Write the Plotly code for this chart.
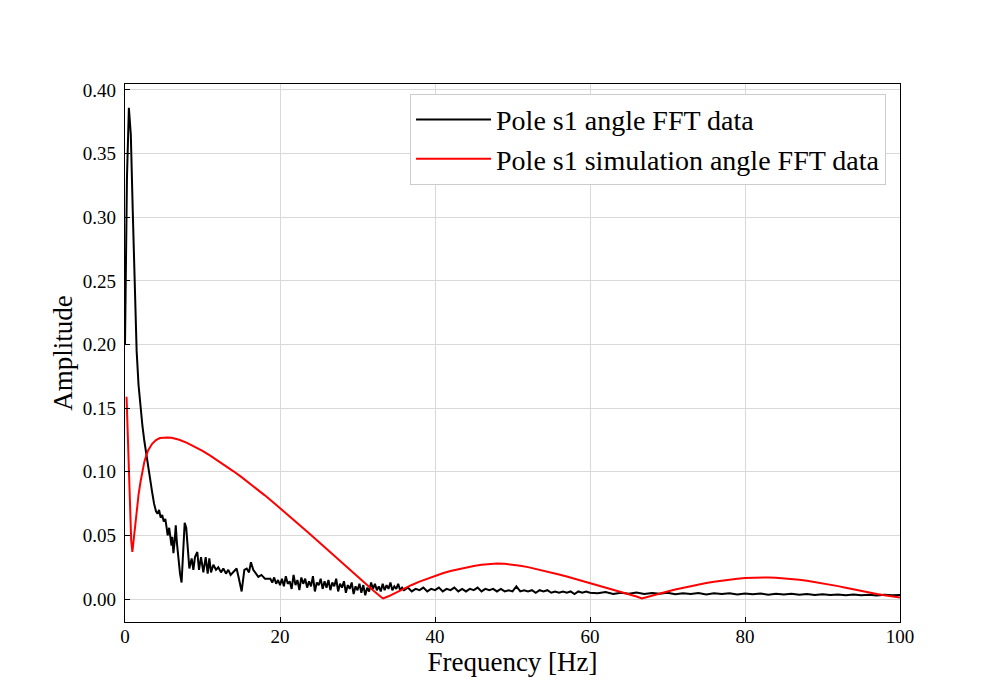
import plotly.graph_objects as go

# measured FFT of pole s1 angle (black)
freq_meas = [
    0.0, 0.25, 0.5, 0.75, 1.0, 1.25, 1.5, 1.75, 2.0, 2.25, 2.5, 2.75, 3.0, 3.25, 3.5, 3.75,
    4.0, 4.2, 4.4, 4.6, 4.8, 5.0, 5.2, 5.4, 5.5, 5.7, 5.9, 6.0, 6.1, 6.25, 6.4, 6.55, 6.7,
    6.9, 7.1, 7.3, 7.5, 7.7, 7.9, 8.1, 8.3,
    8.6, 8.82, 9.03, 9.33, 9.55, 9.81, 10.11, 10.41, 10.67, 10.88, 11.1, 11.4, 11.74, 12.04,
    12.39, 12.69, 13.03, 13.33, 13.63, 13.98, 14.4, 14.7, 15.05, 15.4, 15.7, 16.0, 16.25,
    16.55, 16.9, 17.2, 17.6, 18.06, 18.5,
    18.75, 19.0, 19.25, 19.5, 19.75, 20.0, 20.25, 20.5, 20.75, 21.0, 21.25, 21.5, 21.75,
    22.0, 22.25, 22.5, 22.75, 23.0, 23.25, 23.5, 23.75, 24.0, 24.25, 24.5, 24.75, 25.0,
    25.25, 25.5, 25.75, 26.0, 26.25, 26.5, 26.75, 27.0, 27.25, 27.5, 27.75, 28.0, 28.25,
    28.5, 28.75, 29.0, 29.25, 29.5, 29.75, 30.0, 30.25, 30.5, 30.75, 31.0, 31.25, 31.5,
    31.75, 32.0, 32.25, 32.5, 32.75, 33.0, 33.25, 33.5, 33.75, 34.0, 34.25, 34.5, 34.75,
    35.0, 35.25, 35.5, 35.75, 36.0, 36.5, 37.0, 37.5, 38.0, 38.5, 39.0, 39.5, 40.0,
    40.5, 41.0, 41.5, 42.0, 42.5, 43.0, 43.5, 44.0, 44.5, 45.0, 45.5, 46.0, 46.5, 47.0,
    47.5, 48.0, 48.5, 49.0, 49.5, 50.0, 50.5, 51.0, 51.5, 52.0, 52.5, 53.0, 53.5, 54.0,
    54.5, 55.0, 55.5, 56.0, 56.5, 57.0, 57.5, 58.0, 58.5, 59.0, 59.5, 60.0,
    61, 62, 63, 64, 65, 66, 67, 68, 69, 70, 71, 72, 73, 74, 75, 76, 77, 78, 79, 80,
    81, 82, 83, 84, 85, 86, 87, 88, 89, 90, 91, 92, 93, 94, 95, 96, 97, 98, 99, 100,
]
amp_meas = [
    0.200, 0.330, 0.386, 0.365, 0.305, 0.245, 0.195, 0.168, 0.150, 0.136, 0.124, 0.113,
    0.104, 0.094, 0.084, 0.075,
    0.069, 0.067, 0.070, 0.064, 0.066, 0.061, 0.063, 0.055, 0.050, 0.056, 0.046, 0.042,
    0.049, 0.036, 0.045, 0.058, 0.044, 0.030, 0.020, 0.013, 0.040, 0.060, 0.056, 0.038,
    0.024,
    0.032, 0.023, 0.033, 0.037, 0.023, 0.033, 0.021, 0.033, 0.020, 0.032, 0.021, 0.027,
    0.023, 0.025, 0.021, 0.024, 0.020, 0.023, 0.019, 0.021, 0.024, 0.016, 0.006, 0.023,
    0.024, 0.021, 0.029, 0.023, 0.020, 0.0175, 0.019, 0.016, 0.016,
    0.016, 0.013, 0.017, 0.012, 0.015, 0.011, 0.016, 0.010, 0.018, 0.012, 0.014, 0.008,
    0.019, 0.011, 0.015, 0.007, 0.017, 0.012, 0.016, 0.009, 0.014, 0.010, 0.018, 0.006,
    0.013, 0.011, 0.016, 0.008, 0.014, 0.009, 0.015, 0.007, 0.013, 0.010, 0.016, 0.006,
    0.012, 0.009, 0.014, 0.005, 0.011, 0.008, 0.013, 0.004, 0.010, 0.007, 0.012, 0.005,
    0.011, 0.003, 0.009, 0.006, 0.013, 0.008, 0.012, 0.007, 0.010, 0.006, 0.012, 0.007,
    0.011, 0.008, 0.013, 0.007, 0.010, 0.008, 0.012, 0.007, 0.009, 0.007, 0.009, 0.006,
    0.008, 0.007, 0.009, 0.006, 0.008, 0.007,
    0.009, 0.006, 0.008, 0.007, 0.009, 0.006, 0.008, 0.006, 0.008, 0.007, 0.009, 0.006,
    0.008, 0.007, 0.008, 0.006, 0.008, 0.006, 0.007, 0.006, 0.010, 0.006, 0.007, 0.006,
    0.007, 0.005, 0.007, 0.006, 0.007, 0.005, 0.006, 0.005, 0.006, 0.005, 0.006, 0.004,
    0.006, 0.005, 0.006, 0.005,
    0.0045, 0.0055, 0.004, 0.005, 0.0042, 0.0052, 0.004, 0.0048, 0.0042, 0.005, 0.0038,
    0.0046, 0.004, 0.0048, 0.0037, 0.0045, 0.004, 0.0046, 0.0036, 0.0044, 0.0038, 0.0043,
    0.0035, 0.0042, 0.0036, 0.0041, 0.0034, 0.004, 0.0033, 0.0038, 0.0032, 0.0037,
    0.0031, 0.0036, 0.003, 0.0035, 0.0029, 0.0034, 0.003, 0.0032,
]

# simulated FFT (red)
freq_sim = [
    0.2, 0.35, 0.5, 0.65, 0.8, 0.95, 1.1, 1.3, 1.5, 1.75, 2.0, 2.25, 2.5, 2.75, 3.0, 3.5,
    4.0, 4.5, 5.0, 5.5, 6, 7, 8, 9, 10, 11, 12, 13, 14, 15, 16, 17, 18, 19, 20, 21, 22,
    23, 24, 25, 26, 27, 28, 29, 30, 31, 32, 33, 33.3, 34, 35, 36, 37, 38, 39, 40, 41, 42,
    43, 44, 45, 46, 47, 48, 49, 50, 51, 52, 53, 54, 55, 56, 57, 58, 59, 60, 61, 62, 63,
    64, 65, 66, 66.7, 67.5, 68, 69, 70, 71, 72, 73, 74, 75, 76, 77, 78, 79, 80, 81, 82,
    83, 84, 85, 86, 87, 88, 89, 90, 91, 92, 93, 94, 95, 96, 97, 98, 99, 100,
]
amp_sim = [
    0.159, 0.130, 0.100, 0.070, 0.046, 0.037, 0.045, 0.060, 0.071, 0.082, 0.092, 0.101,
    0.108, 0.113, 0.117, 0.122, 0.125, 0.1265, 0.127, 0.127, 0.1267, 0.1252, 0.1228,
    0.1198, 0.1164, 0.1127, 0.1088, 0.1047, 0.1004, 0.0960, 0.0914, 0.0866, 0.0817,
    0.0767, 0.0716, 0.0664, 0.0611, 0.0557, 0.0503, 0.0448, 0.0393, 0.0338, 0.0283,
    0.0228, 0.0174, 0.0121, 0.0069, 0.0019, 0.0005,
    0.0022, 0.0053, 0.0083, 0.0111, 0.0137, 0.0161, 0.0183, 0.0203, 0.0221, 0.0236,
    0.0249, 0.0260, 0.0269, 0.0276, 0.0279, 0.0277, 0.0271, 0.0262, 0.0251, 0.0238,
    0.0224, 0.0209, 0.0193, 0.0177, 0.0160, 0.0143, 0.0126, 0.0109, 0.0092, 0.0074,
    0.0056, 0.0038, 0.0020, 0.0005,
    0.0017, 0.0025, 0.0043, 0.0060, 0.0076, 0.0090, 0.0104, 0.0116, 0.0127, 0.0137,
    0.0146, 0.0154, 0.0160, 0.0165, 0.0168, 0.0170, 0.0170, 0.0168, 0.0164, 0.0159,
    0.0152, 0.0144, 0.0135, 0.0125, 0.0114, 0.0102, 0.0089, 0.0076, 0.0063, 0.0051,
    0.0040, 0.0030, 0.0021, 0.0013,
]

y_ticks = [0.0, 0.05, 0.10, 0.15, 0.20, 0.25, 0.30, 0.35, 0.40]
x_ticks = [0, 20, 40, 60, 80, 100]

serif = "Liberation Serif, Times New Roman, serif"

fig = go.Figure()
fig.add_trace(go.Scatter(x=freq_meas, y=amp_meas, mode="lines",
                         line=dict(color="black", width=2),
                         name="Pole s1 angle FFT data"))
fig.add_trace(go.Scatter(x=freq_sim, y=amp_sim, mode="lines",
                         line=dict(color="red", width=2),
                         name="Pole s1 simulation angle FFT data"))

axis_common = dict(
    showline=True, linecolor="black", linewidth=1.2, mirror=True,
    ticks="inside", ticklen=5, tickwidth=1.3, tickcolor="black",
    showgrid=True, gridcolor="#d9d9d9", gridwidth=1, zeroline=False,
    tickfont=dict(family=serif, size=19, color="black"),
)

# page body has an 8px margin, so the margins are shifted to compensate
fig.update_layout(
    width=1000, height=700,
    margin=dict(l=117, r=108, t=76, b=86),
    paper_bgcolor="white", plot_bgcolor="white",
    font=dict(family=serif, color="black"),
    xaxis=dict(range=[0, 100], tickvals=x_ticks,
               title=dict(text="Frequency [Hz]", font=dict(family=serif, size=27), standoff=6),
               ticklabelstandoff=-3,
               **axis_common),
    yaxis=dict(range=[-0.018, 0.4047], tickvals=y_ticks, tickformat=".2f",
               title=dict(text="Amplitude", font=dict(family=serif, size=27), standoff=2),
               ticklabelstandoff=4,
               **axis_common),
    legend=dict(x=0.982, y=0.982, xanchor="right", yanchor="top",
                bgcolor="white", bordercolor="#cccccc", borderwidth=1,
                itemwidth=75,
                font=dict(family=serif, size=28, color="black")),
    showlegend=True,
)

fig.write_html("out.html")
